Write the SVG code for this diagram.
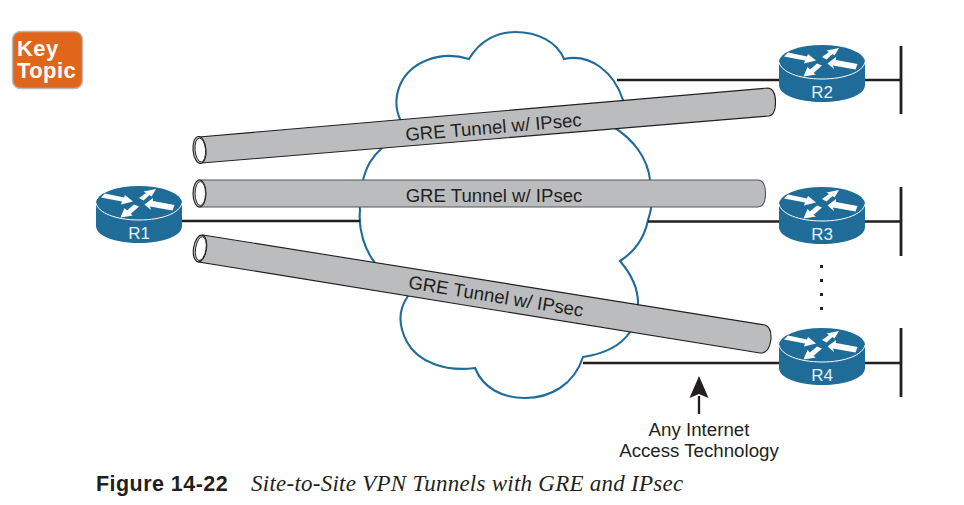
<svg xmlns="http://www.w3.org/2000/svg" width="964" height="505" viewBox="0 0 964 505">
<style>
text{font-family:"Liberation Sans",Arial,sans-serif;fill:#231f20}
.wire{stroke:#231f20;stroke-width:2.300;fill:none}
.bus{stroke:#231f20;stroke-width:2.800;fill:none}
.tube{fill:#bbbcbe;stroke:#231f20;stroke-width:1.100}
.rim{fill:#fff;stroke:#231f20;stroke-width:.9}
.tl{font-size:18.600px;text-anchor:middle}
.rl{font-size:17px;fill:#e8f0f5;text-anchor:middle}
.note{font-size:18.700px;text-anchor:middle}
</style>
<defs>
<g id="router">
<path d="M0,17V40C0,50 19,57 43,57S86,50 86,40V17Z" fill="#1f6c99"/>
<ellipse cx="43" cy="17" rx="43" ry="17" fill="#1f6c99"/>
<path d="M0,17C2,27 20,34 43,34S84,27 86,17" fill="none" stroke="#fff" stroke-width="1"/>
<path fill="#fff" d="M5,11.500 9,7.500 28,11.500 29,9 37,15.500 25,18.500 26,15.500ZM43,12 50,7 47.500,5.500 60,3 55.500,10.500 53.500,9 47.500,14.500ZM24.500,31.500 28.500,22 31,24.500 38,18.500 43,20.500 34.500,28 37,29.500ZM48.500,18.500 57,12 57,15 78.500,19 76.500,24.500 54,20.500 55,24Z"/>
</g>
</defs>

<g id="key-topic">
<rect x="12.500" y="31.500" width="70" height="57" rx="8" fill="#e0661c" stroke="#b9babc" stroke-width="1.500"/>
<text font-size="22" font-weight="bold" letter-spacing=".4" style="fill:#fff"><tspan x="17" y="55.500">Key</tspan><tspan x="17" y="77.500">Topic</tspan></text>
</g>

<g id="cloud">
<path d="M469,59C480,40 498,32 515,32C538,32 557,42 564,59C590,53 614,72 623,100C625,110 620,120 612,126C635,140 648,160 650,180C653,195 653,205 648,220C644,240 634,252 620,261C632,275 638,288 638,303C638,315 635,325 630,332C620,347 603,354 583,357C574,385 550,398 525,398C502,398 483,388 475,368C445,372 418,362 407,342C398,325 398,310 408,296C395,285 382,275 375,263C365,250 358,230 360,210C358,195 360,190 363,180C367,165 372,157 382,148C388,140 395,130 400,119C395,108 396,95 400,85C410,62 440,50 469,59Z" fill="#fff" stroke="#1f6c99" stroke-width="2.100"/>
</g>

<g id="connectors">
<path class="wire" d="M182,221H360M648,221.500H779M617,80H779M583,363H779M865,80H901M865,221.500H901M865,363H901"/>
<path class="bus" d="M901,46V114M901,187V256M901,328V397"/>
<path d="M699,414V396" class="wire"/>
<path d="M699,376 708.500,398 699,394 689.500,398Z" fill="#231f20"/>
</g>

<g id="tunnel-r2">
<path class="tube" d="M199,137L768,88Q775.500,89 775.500,102Q775.500,115 769,116L202,163Z"/>
<ellipse cx="199.500" cy="150" rx="6.500" ry="13.500" class="tube" transform="rotate(-5 199.500 150)"/>
<ellipse cx="200.300" cy="150" rx="5.200" ry="12" class="rim" transform="rotate(-5 200 150)"/>
<text class="tl" transform="translate(494,133.500) rotate(-4.900)">GRE Tunnel w/ IPsec</text>
</g>
<g id="tunnel-r3">
<path class="tube" style="stroke:#55565a" d="M199,180H758Q765.500,180.500 765.500,193.500Q765.500,206.500 758,207H199Z"/>
<ellipse cx="199.500" cy="193.500" rx="6.500" ry="13.500" class="tube"/>
<ellipse cx="200.300" cy="193.500" rx="5.200" ry="12" class="rim"/>
<text class="tl" x="494" y="201.500">GRE Tunnel w/ IPsec</text>
</g>
<g id="tunnel-r4">
<path class="tube" d="M203,235L765,325Q771.500,327 771,339Q769,354 760,353L199,262Z"/>
<ellipse cx="200" cy="248.500" rx="6.500" ry="13.500" class="tube" transform="rotate(9 200 248.500)"/>
<ellipse cx="200.800" cy="248.500" rx="5.200" ry="12" class="rim" transform="rotate(9 200 248.500)"/>
<text class="tl" transform="translate(495,302.500) rotate(9.300)">GRE Tunnel w/ IPsec</text>
</g>

<g id="R1"><use href="#router" x="96" y="186"/><text class="rl" x="139" y="239">R1</text></g>
<g id="R2"><use href="#router" x="779" y="45"/><text class="rl" x="822" y="98">R2</text></g>
<g id="R3"><use href="#router" x="779" y="187"/><text class="rl" x="822" y="240">R3</text></g>
<g id="R4"><use href="#router" x="779" y="328"/><text class="rl" x="822" y="381">R4</text></g>

<g id="ellipsis" fill="#231f20">
<rect x="820" y="265" width="3" height="3"/><rect x="820" y="279" width="3" height="3"/><rect x="820" y="293" width="3" height="3"/><rect x="820" y="307" width="3" height="3"/>
</g>

<g id="note">
<text class="note" x="699" y="436">Any Internet</text>
<text class="note" x="699" y="457">Access Technology</text>
</g>

<g id="caption">
<text x="96" y="491" font-size="21.500" font-weight="bold" letter-spacing=".45">Figure 14-22</text>
<text x="251" y="491" font-size="23" font-style="italic" letter-spacing=".25" style="font-family:'Liberation Serif','Times New Roman',serif">Site-to-Site VPN Tunnels with GRE and IPsec</text>
</g>
</svg>
